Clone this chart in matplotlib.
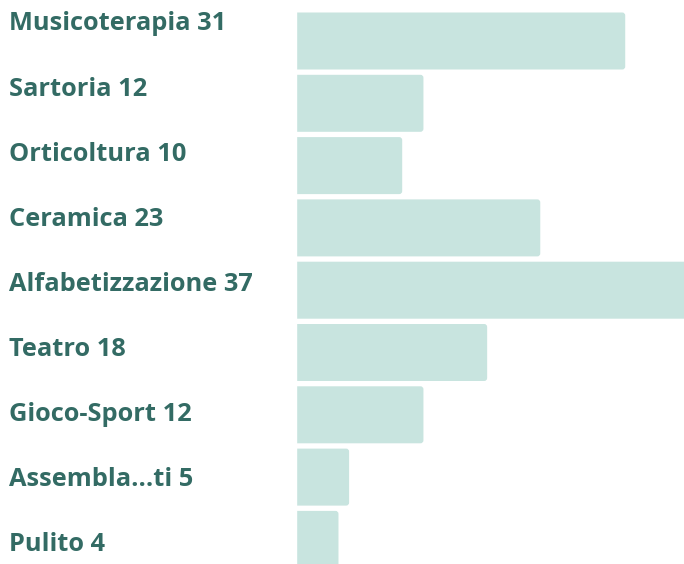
import matplotlib.pyplot as plt
from matplotlib.patches import FancyBboxPatch

# data
labels = ["Musicoterapia", "Sartoria", "Orticoltura", "Ceramica", "Alfabetizzazione",
          "Teatro", "Gioco-Sport", "Assembla...ti", "Pulito"]
values = [31, 12, 10, 23, 37, 18, 12, 5, 4]

bar_color = "#c8e4df"
text_color = "#336b64"

fig = plt.figure(figsize=(6.84, 5.64), dpi=100)
ax = fig.add_axes([0, 0, 1, 1])

px_x = 10.62   # pixels per unit
px_y = 62.3    # pixels per row
x0 = 296
ax.set_xlim(-x0 / px_x, (684 - x0) / px_x)
ax.set_ylim((564 - 41) / px_y, -41 / px_y)
ax.axis("off")

bars = ax.barh(range(len(values)), values, height=57 / px_y, color=bar_color)
for b in bars:
    x, y = b.get_xy()
    w, h = b.get_width(), b.get_height()
    b.remove()
    r = 3 / px_x
    ax.add_patch(FancyBboxPatch((x - r, y), w + r, h,
                                boxstyle="round,pad=0,rounding_size=%f" % r,
                                mutation_aspect=(px_x / px_y),
                                facecolor=bar_color, edgecolor="none"))

# labels on the left, evenly spaced
for i, (lab, v) in enumerate(zip(labels, values)):
    fig.text(9 / 684, 1 - (24 + 65.1 * i) / 564, f"{lab} {v}",
             ha="left", va="center", fontsize=18.3, fontweight="bold",
             color=text_color, family="Open Sans")

# cover the square left edge of the rounded patches
ax.axvspan(-x0 / px_x - 1, 0, color="white", zorder=3)

fig.savefig("out.png", dpi=100)
